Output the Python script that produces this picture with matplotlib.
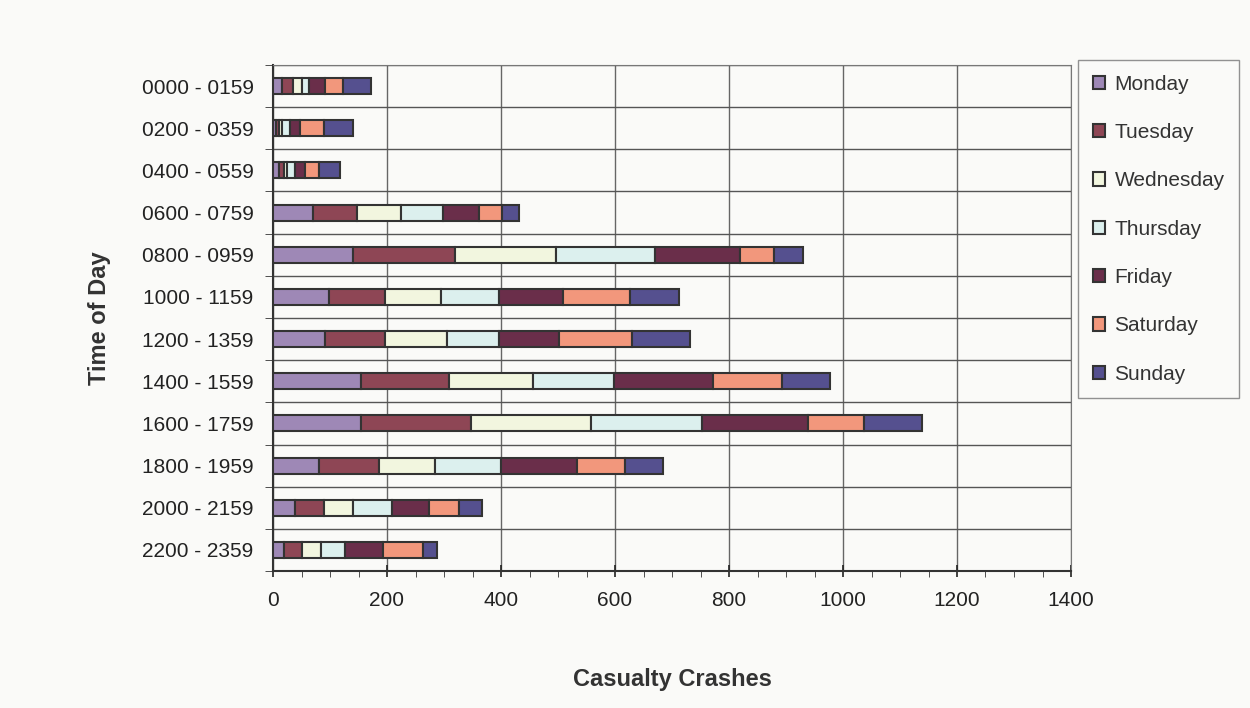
import numpy as np
import matplotlib.pyplot as plt
from matplotlib.ticker import MultipleLocator, FixedLocator

plt.rcParams['font.family'] = ['Liberation Sans', 'DejaVu Sans']

periods = ['0000 - 0159', '0200 - 0359', '0400 - 0559', '0600 - 0759',
           '0800 - 0959', '1000 - 1159', '1200 - 1359', '1400 - 1559',
           '1600 - 1759', '1800 - 1959', '2000 - 2159', '2200 - 2359']
days = ['Monday', 'Tuesday', 'Wednesday', 'Thursday', 'Friday', 'Saturday', 'Sunday']

monday    = [16, 5, 10, 70, 140, 98, 92, 155, 154, 81, 39, 20]
tuesday   = [19, 6, 10, 78, 179, 99, 105, 153, 193, 105, 50, 30]
wednesday = [15, 5, 4, 76, 178, 98, 108, 148, 211, 98, 51, 35]
thursday  = [13, 13, 15, 74, 173, 102, 91, 143, 195, 116, 68, 41]
friday    = [29, 18, 18, 63, 149, 112, 106, 173, 186, 134, 66, 67]
saturday  = [31, 42, 23, 41, 60, 118, 128, 121, 98, 84, 52, 70]
sunday    = [49, 51, 37, 30, 50, 85, 102, 85, 101, 67, 40, 25]

series = [monday, tuesday, wednesday, thursday, friday, saturday, sunday]
colors = ['#9e88b6', '#8e4655', '#f2f6df', '#dcf0ee', '#6a2e4a', '#f2977c', '#55508f']

bg = '#fafaf8'
fig = plt.figure(figsize=(12.5, 7.08), dpi=100, facecolor=bg)
ax = fig.add_axes([0.2184, 0.1935, 0.6384, 0.7147], facecolor=bg)

y = np.arange(len(periods))
left = np.zeros(len(periods))
handles = []
for name, vals, c in zip(days, series, colors):
    b = ax.barh(y, vals, left=left, height=0.38, color=c, edgecolor='#333333',
                linewidth=1.5, label=name, zorder=3)
    handles.append(b)
    left += np.array(vals)

ax.set_xlim(0, 1400)
ax.set_ylim(len(periods) - 0.5, -0.5)
ax.xaxis.set_major_locator(MultipleLocator(200))
ax.xaxis.set_minor_locator(MultipleLocator(50))
ax.set_yticks(y)
ax.set_yticklabels(periods)
ax.yaxis.set_minor_locator(FixedLocator(np.arange(-0.5, len(periods), 1.0)))

ax.tick_params(axis='y', which='major', length=0, labelsize=15, pad=14, colors='#222222')
ax.tick_params(axis='y', which='minor', length=6, direction='out', color='#333333')
ax.tick_params(axis='x', which='major', length=9, direction='inout', labelsize=15,
               pad=10, colors='#222222', width=1.2)
ax.tick_params(axis='x', which='minor', length=4, direction='out', color='#333333')

ax.grid(axis='x', which='major', color='#666666', linewidth=1.0, zorder=0)
ax.grid(axis='y', which='minor', color='#555555', linewidth=1.0, zorder=0)
ax.set_axisbelow(True)

for s in ['top', 'right']:
    ax.spines[s].set_color('#777777')
for s in ['left', 'bottom']:
    ax.spines[s].set_color('#333333')
    ax.spines[s].set_linewidth(1.5)

ax.set_xlabel('Casualty Crashes', fontsize=17, fontweight='bold', labelpad=42, color='#333333')
ax.set_ylabel('Time of Day', fontsize=17, fontweight='bold', labelpad=22, color='#333333')

leg = fig.legend(handles=handles, labels=days, loc='upper left',
                 bbox_to_anchor=(1078 / 1250, 1 - 60 / 708), fontsize=15,
                 frameon=True, fancybox=False, edgecolor='#777777', facecolor=bg,
                 handlelength=0.6, handleheight=0.6, handletextpad=0.45,
                 labelspacing=1.41, borderpad=0.7, borderaxespad=0)
leg.get_frame().set_linewidth(1.0)
for t in leg.get_texts():
    t.set_color('#333333')

fig.savefig('out.png', dpi=100, facecolor=bg)
